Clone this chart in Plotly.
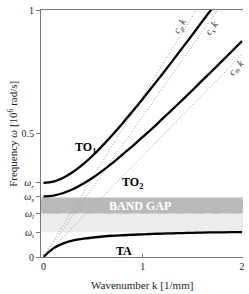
import plotly.graph_objects as go

# ---- data ----
k_vals = [0.0, 0.1, 0.2, 0.3, 0.4, 0.5, 0.6, 0.7, 0.8, 0.9, 1.0,
          1.1, 1.2, 1.3, 1.4, 1.5, 1.6, 1.7, 1.8, 1.9, 2.0]
ta_vals = [0.0, 0.035, 0.055, 0.067, 0.074, 0.079, 0.083, 0.086, 0.088, 0.090, 0.092,
           0.0935, 0.095, 0.096, 0.097, 0.098, 0.099, 0.0995, 0.100, 0.1005, 0.101]
to1_vals = [0.300, 0.305, 0.321, 0.345, 0.376, 0.412, 0.453, 0.497, 0.543, 0.591, 0.640,
            0.691, 0.742, 0.794, 0.847, 0.900, 0.954, 1.007, 1.061, 1.115, 1.170]
to2_vals = [0.245, 0.2485, 0.259, 0.275, 0.297, 0.322, 0.351, 0.382, 0.416, 0.450, 0.486,
            0.522, 0.560, 0.598, 0.636, 0.675, 0.715, 0.754, 0.794, 0.834, 0.874]

# asymptote speeds (slopes of dotted lines)
speed_names = ["p", "s", "m"]
speed_vals = [0.65, 0.57, 0.41]
line_k = [0.0, 2.0]

# characteristic frequencies
w_t, w_l, w_s, w_r = 0.100, 0.175, 0.245, 0.300
ytick_vals = [0, w_t, w_l, w_s, w_r, 0.5, 1]
ytick_text = ["0", "<i>ω</i><sub><i>t</i></sub>", "<i>ω</i><sub><i>l</i></sub>",
              "<i>ω</i><sub><i>s</i></sub>", "<i>ω</i><sub><i>r</i></sub>", "0.5", "1"]
xtick_vals = [0, 1, 2]

SERIF = "Liberation Serif, Times New Roman, serif"

fig = go.Figure()

# dotted speed lines
for name, c in zip(speed_names, speed_vals):
    fig.add_trace(go.Scatter(x=line_k, y=[c * k for k in line_k], mode="lines",
                             line=dict(color="#9a9a9a", width=1, dash="1px,2px"),
                             hoverinfo="skip", showlegend=False))

# dispersion branches
for vals in (ta_vals, to1_vals, to2_vals):
    fig.add_trace(go.Scatter(x=k_vals, y=vals, mode="lines",
                             line=dict(color="black", width=2.3, shape="spline"),
                             showlegend=False))

# band gap regions
fig.add_shape(type="rect", xref="paper", x0=0, x1=1, yref="y", y0=w_t, y1=w_l,
              fillcolor="#ececec", line=dict(width=0), layer="below")
fig.add_shape(type="rect", xref="paper", x0=0, x1=1, yref="y", y0=w_l, y1=w_s - 0.004,
              fillcolor="#b9b9b9", line=dict(color="#e0e0e0", width=1, dash="dash"),
              layer="below")

ann = []
ann.append(dict(x=0.97, y=0.205, text="<b>BAND GAP</b>", showarrow=False,
                font=dict(family=SERIF, size=12, color="white")))
ann.append(dict(x=0.42, y=0.443, text="<b>TO<sub>1</sub></b>", showarrow=False,
                font=dict(family=SERIF, size=12, color="black")))
ann.append(dict(x=0.90, y=0.300, text="<b>TO<sub>2</sub></b>", showarrow=False,
                font=dict(family=SERIF, size=12, color="black")))
ann.append(dict(x=0.81, y=0.025, text="<b>TA</b>", showarrow=False,
                font=dict(family=SERIF, size=12, color="black")))
label_pos = [(1.38, 0.933, -58), (1.70, 0.925, -55), (1.94, 0.765, -47)]
for name, (lx, ly, ang) in zip(speed_names, label_pos):
    ann.append(dict(x=lx, y=ly, text="<i>c</i><sub><i>%s</i></sub> <i>k</i>" % name,
                    showarrow=False, textangle=ang,
                    font=dict(family=SERIF, size=10, color="#333")))
# axis titles
ann.append(dict(xref="paper", yref="paper", x=-0.142, y=0.5,
                xanchor="center", yanchor="middle",
                text="Frequency <i>ω</i> [10<sup>6</sup> rad/s]", textangle=-90,
                showarrow=False, font=dict(family=SERIF, size=11, color="#222")))
ann.append(dict(xref="paper", yref="paper", x=0.5, y=-0.112,
                xanchor="center", yanchor="middle",
                text="Wavenumber k [1/mm]", showarrow=False,
                font=dict(family=SERIF, size=11, color="#222")))

fig.update_layout(
    width=249, height=294,
    margin=dict(l=41, r=4, t=6, b=37),
    paper_bgcolor="white", plot_bgcolor="white",
    annotations=ann,
    font=dict(family=SERIF, size=10, color="#222"),
    xaxis=dict(range=[-0.025, 2.01], tickvals=xtick_vals, ticktext=["0", "1", "2"],
               showline=True, mirror=True, linecolor="#777", linewidth=1,
               ticks="inside", ticklen=3, tickcolor="#777",
               showgrid=False, zeroline=False,
               tickfont=dict(family=SERIF, size=10, color="#222")),
    yaxis=dict(range=[0, 1], tickvals=ytick_vals, ticktext=ytick_text,
               showline=True, mirror=False, linecolor="#777", linewidth=1,
               ticks="outside", ticklen=4, tickcolor="#777",
               showgrid=False, zeroline=False,
               tickfont=dict(family=SERIF, size=10, color="#222")),
)

fig.write_html("out.html", config={"displayModeBar": False},
               post_script="document.body.style.margin='0px';document.body.style.overflow='hidden';")
